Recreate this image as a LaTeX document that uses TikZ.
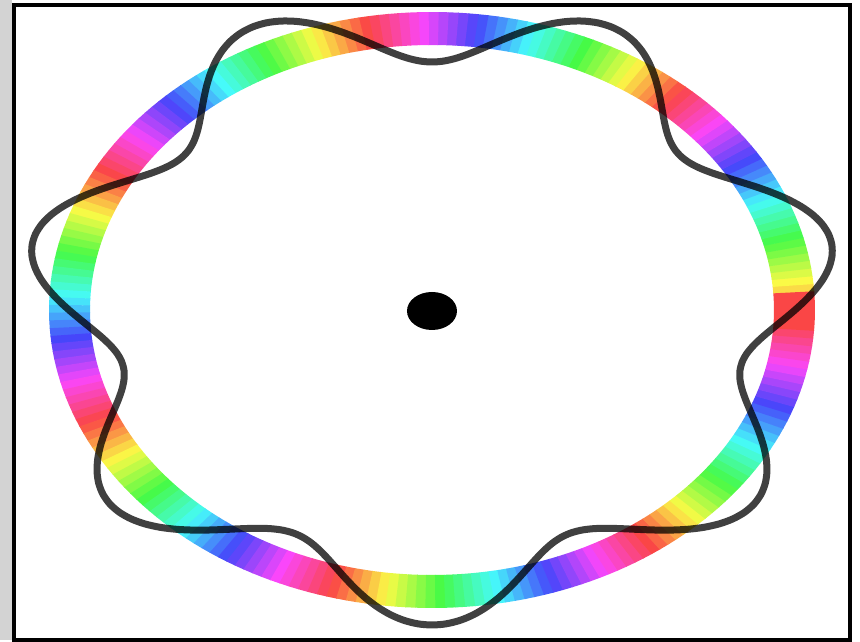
\documentclass[tikz,border=0pt]{standalone}
\usepackage{xcolor}
\definecolor{StripGray}{RGB}{211, 211, 211}
\usepackage{tikz}

\begin{document}
\begin{tikzpicture}[x=0.02cm, y=0.02cm]
                \useasboundingbox (-432,-332) rectangle (428,310);
                \fill[StripGray] (-432,310) rectangle (-420,-330);
                \foreach \t in {3.5,5,...,355} {
                    \pgfmathsetmacro{\hue}{mod(7*\t+25,360)/360}
                    \definecolor{segcol}{hsb}{\hue,0.72,0.98}
                    \fill[segcol] ({383*cos(\t)},{298*sin(\t)}) -- ({383*cos(\t+1.6)},{298*sin(\t+1.6)})
                        -- ({342*cos(\t+1.6)},{265*sin(\t+1.6)}) -- ({342*cos(\t)},{265*sin(\t)}) -- cycle;
                }
                \definecolor{segcol}{hsb}{0,0.72,0.98}
                \fill[segcol] plot[domain=-4:3.6, samples=8, variable=\t] ({383*cos(\t)},{298*sin(\t)})
                    -- plot[domain=3.6:-4, samples=8, variable=\t] ({342*cos(\t)},{265*sin(\t)}) -- cycle;
                \draw[line width=0.14cm, black, draw opacity=0.75, line join=round]
                    plot[smooth cycle, domain=0:358, samples=180, variable=\t]
                    ({(363+46*sin(7*\t))*cos(\t)}, {(281.5+33.5*sin(7*\t))*sin(\t)});
                \fill (0,-1) ellipse [x radius=25, y radius=19];
                \draw[line width=0.08cm] (-418,305) rectangle (418.5,-330.5);
            \end{tikzpicture}
\end{document}
